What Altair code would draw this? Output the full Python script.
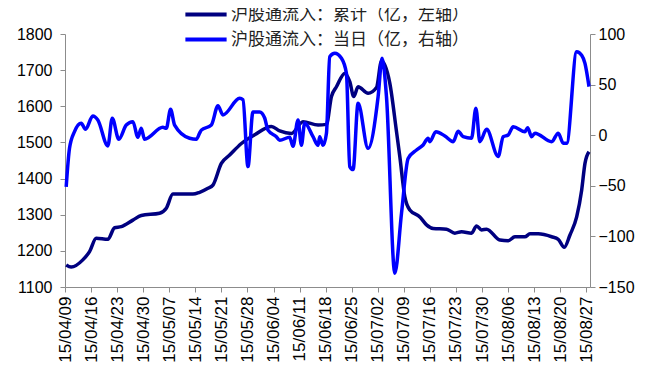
import altair as alt
import pandas as pd

# ---- data ----
start = pd.Timestamp("2015-04-09")
# day offsets from 2015-04-09 and values (cumulative inflow, left axis, 亿)
cum_days = [0.32, 1.67, 4.78, 6.59, 8.39, 11.51, 13.31, 15.11, 18.23, 20.48,
            25.40, 27.20, 28.98, 34.35, 36.16, 38.39, 39.73, 41.99, 44.22, 47.37,
            50.94, 55.43, 57.66, 60.81, 63.92, 67.96, 70.22, 71.56, 72.90, 75.13,
            76.48, 77.55, 78.71, 81.40, 83.66, 85.00, 87.23, 89.03, 89.92, 91.26,
            92.61, 95.30, 97.10, 98.87, 102.47, 104.70, 106.51, 109.19, 110.54, 111.88,
            113.23, 116.80, 119.03, 120.83, 123.52, 124.87, 127.10, 130.70, 132.47, 134.09,
            135.62, 137.42, 138.76, 139.65, 140.73]
cum_vals = [1161, 1155, 1175, 1198, 1235, 1232, 1264, 1267, 1285, 1298,
            1304, 1318, 1357, 1357, 1362, 1373, 1382, 1442, 1465, 1497,
            1521, 1544, 1532, 1525, 1557, 1548, 1550, 1627, 1654, 1691,
            1668, 1627, 1654, 1636, 1652, 1725, 1664, 1530, 1461, 1350,
            1313, 1294, 1272, 1262, 1260, 1249, 1253, 1249, 1269, 1258,
            1260, 1230, 1228, 1239, 1239, 1247, 1247, 1239, 1232, 1210,
            1244, 1294, 1368, 1442, 1474]

# daily inflow, right axis, 亿
daily_days = [0.32, 1.21, 2.55, 4.35, 5.51, 7.47, 8.82, 11.51, 12.69, 14.46,
              16.45, 18.23, 19.57, 20.48, 21.37, 26.29, 27.20, 28.36, 29.44, 33.47,
              35.27, 36.16, 36.61, 39.30, 41.08, 42.42, 46.91, 47.80, 49.14, 50.48,
              52.28, 53.63, 54.52, 56.77, 57.66, 60.35, 61.24, 62.58, 63.49, 64.38,
              66.61, 67.96, 68.41, 69.30, 70.22, 71.10, 72.45, 74.25, 75.59, 76.48,
              77.37, 78.71, 81.40, 84.09, 85.16, 86.34, 88.58, 90.38, 92.15, 94.41,
              96.18, 97.53, 97.98, 99.60, 102.02, 104.25, 105.59, 106.94, 109.19, 110.35,
              111.42, 113.23, 116.34, 117.69, 119.03, 120.38, 123.52, 124.25, 125.32, 126.21,
              130.70, 132.47, 133.82, 134.73, 137.42, 138.76, 139.65, 140.73]
daily_vals = [-51, -13, 3.5, 11.8, 5.8, 19, 15, -10.6, 16.7, -4,
              10, 13.4, -2, 6.8, -4, 7.8, 6.8, 25.6, 10, -3,
              -4, 2, 5, 10, 29, 20, 36.5, 35, -31, 23,
              23, 17, 5, -1.5, -5, -2, -11, 15, -10, 12,
              -1.5, -10, -1.5, -10, 2, 77.6, 81, 76, 61, -31,
              -34, 31.5, -13, 38, 76, 38, -136.4, -77, -23, -14.6,
              -9.7, -3, -6.4, 3.5, -0.8, -6.4, 4, -1.5, -3, 26.6,
              -6.4, 5.8, -21, -1.5, 0.2, 8.4, 3.5, 7.4, -1.5, 2,
              -6.4, 2, -8, -8, 82.5, 79, 71, 48]

tick_dates = ["2015-04-09", "2015-04-16", "2015-04-23", "2015-04-30", "2015-05-07",
              "2015-05-14", "2015-05-21", "2015-05-28", "2015-06-04", "2015-06-11",
              "2015-06-18", "2015-06-25", "2015-07-02", "2015-07-09", "2015-07-16",
              "2015-07-23", "2015-07-30", "2015-08-06", "2015-08-13", "2015-08-20",
              "2015-08-27"]
left_ticks = [1100, 1200, 1300, 1400, 1500, 1600, 1700, 1800]
right_ticks = [-150, -100, -50, 0, 50, 100]

s_cum = "沪股通流入：累计（亿，左轴）"
s_day = "沪股通流入：当日（亿，右轴）"

def to_iso(d):
    return (start + pd.Timedelta(days=d)).strftime("%Y-%m-%dT%H:%M:%S")

df_cum = pd.DataFrame({"date": [to_iso(d) for d in cum_days], "value": cum_vals, "series": s_cum})
df_day = pd.DataFrame({"date": [to_iso(d) for d in daily_days], "value": daily_vals, "series": s_day})

def dt(s):
    t = pd.Timestamp(s)
    return alt.DateTime(year=t.year, month=t.month, date=t.day)

AX_FONT = "Liberation Sans"
AX_COLOR = "#8c8c8c"

x_enc = alt.X("date:T",
              scale=alt.Scale(domain=[dt("2015-04-09"), dt("2015-08-28")]),
              axis=alt.Axis(values=[dt(s) for s in tick_dates], format="%y/%m/%d",
                            labelAngle=270, labelFont=AX_FONT, labelFontSize=17,
                            labelColor="#000000", labelPadding=4, tickSize=5,
                            domainColor=AX_COLOR, tickColor=AX_COLOR, grid=False,
                            title=None, labelOverlap=False, labelFlush=False))

color_enc = alt.Color("series:N",
                      scale=alt.Scale(domain=[s_cum, s_day], range=["#000080", "#0000FF"]),
                      legend=alt.Legend(title=None, orient="none", legendX=118, legendY=-32,
                                        direction="vertical", symbolType="stroke",
                                        symbolStrokeWidth=4, symbolSize=1700,
                                        labelFont="Noto Sans CJK SC", labelFontSize=17,
                                        labelColor="#222222", rowPadding=0, labelOffset=2,
                                        clipHeight=25, labelLimit=0))

cum = alt.Chart(df_cum).mark_line(strokeWidth=3.5, interpolate="monotone").encode(
    x=x_enc,
    y=alt.Y("value:Q", scale=alt.Scale(domain=[1100, 1800], nice=False, zero=False),
            axis=alt.Axis(orient="left", values=left_ticks, title=None, grid=False, format="d",
                          labelFont=AX_FONT, labelFontSize=16, labelColor="#000000",
                          tickSize=5, labelPadding=8, domainColor=AX_COLOR, tickColor=AX_COLOR)),
    color=color_enc,
)

day = alt.Chart(df_day).mark_line(strokeWidth=3.5, interpolate="monotone").encode(
    x=x_enc,
    y=alt.Y("value:Q", scale=alt.Scale(domain=[-150, 100], nice=False, zero=False),
            axis=alt.Axis(orient="right", values=right_ticks, title=None, grid=False, format="d",
                          labelFont=AX_FONT, labelFontSize=16, labelColor="#000000",
                          tickSize=5, labelPadding=3, domainColor=AX_COLOR, tickColor=AX_COLOR)),
    color=color_enc,
)

chart = alt.layer(cum, day).resolve_scale(y="independent").properties(
    width=525, height=253,
    autosize=alt.AutoSizeParams(type="none"),
    padding={"left": 57, "top": 26, "right": 50, "bottom": 86},
    background="white",
).configure_view(stroke=None)

chart.save("out.html", embed_options={"renderer": "svg", "actions": False})
